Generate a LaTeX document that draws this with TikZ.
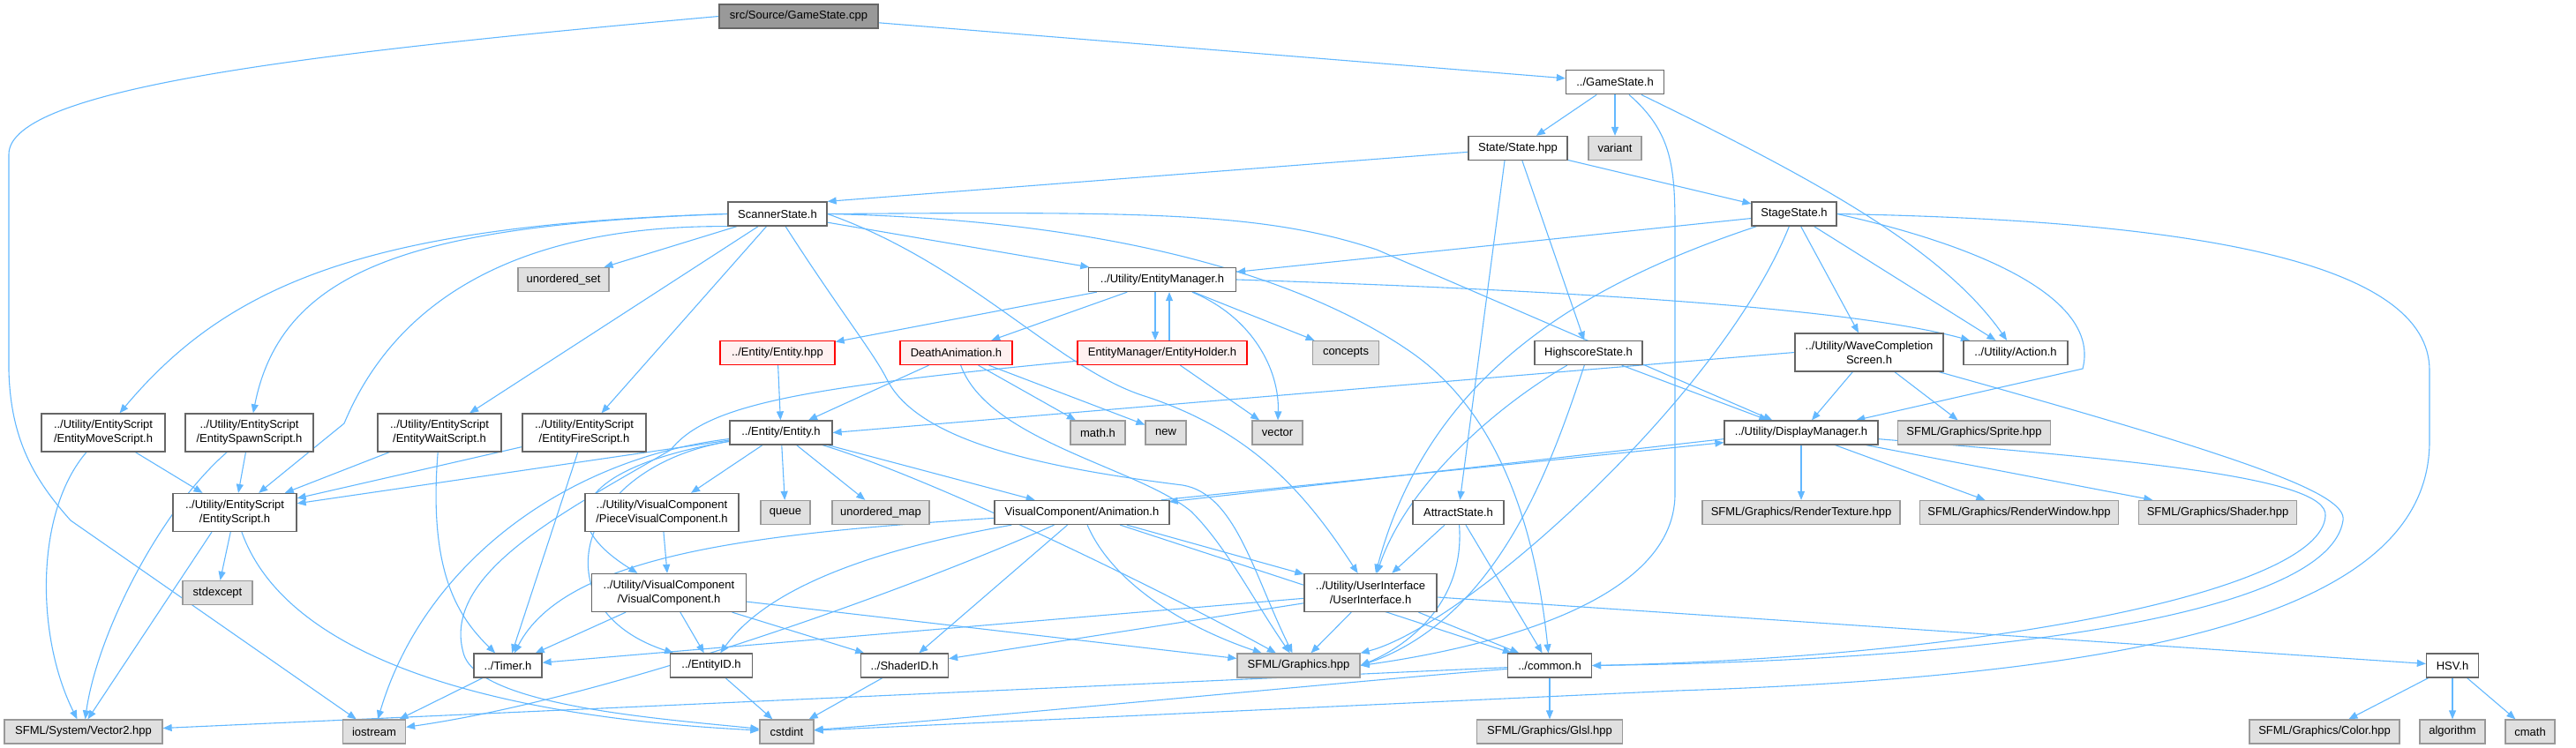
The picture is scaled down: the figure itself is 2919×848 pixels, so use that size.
\documentclass[tikz,border=0pt]{standalone}
\usepackage{fontspec}
\setmainfont{Liberation Sans}
\usetikzlibrary{arrows.meta}

\definecolor{edgeblue}{HTML}{63B8FF}
\definecolor{boxgray}{HTML}{666666}
\definecolor{sysborder}{HTML}{999999}
\definecolor{sysfill}{HTML}{E0E0E0}
\definecolor{rootfill}{HTML}{999999}
\definecolor{redfill}{HTML}{FFF0F0}

\pgfdeclarelayer{edges}
\pgfsetlayers{edges,main}

\begin{document}
\begin{tikzpicture}[x=1pt, y=-1pt,
    file/.style={draw=boxgray, fill=white, line width=1.3pt, inner sep=0pt,
        minimum height=27pt, align=center, font=\fontsize{13}{16}\selectfont},
    twoline/.style={file, minimum height=43pt},
    sys/.style={file, draw=sysborder, fill=sysfill},
    root/.style={file, fill=rootfill},
    broken/.style={file, draw=red, fill=redfill},
    dep/.style={draw=edgeblue, line width=1.1pt, -{Triangle[length=10pt,width=8pt]}}]
    \useasboundingbox (0,0) rectangle (2919,848);

    % top of the graph
    \node[root, minimum width=180pt] (gscpp) at (905,18.5) {src/Source/GameState.cpp};
    \node[file, minimum width=111pt] (gsh) at (1830,93.3) {../GameState.h};
    \node[file, minimum width=112pt] (statehpp) at (1720,168) {State/State.hpp};
    \node[sys, minimum width=60pt] (variant) at (1830,168) {variant};
    \node[file, minimum width=112pt] (scanner) at (881,242.5) {ScannerState.h};
    \node[file, minimum width=96pt] (stage) at (2033,242.5) {StageState.h};

    % second band
    \node[sys, minimum width=103pt] (uset) at (638.5,317) {unordered\_set};
    \node[file, minimum width=167pt] (emgr) at (1317,317) {../Utility/EntityManager.h};
    \node[broken, minimum width=130pt] (entityhpp) at (881,400) {../Entity/Entity.hpp};
    \node[broken, minimum width=127pt] (death) at (1083.5,400) {DeathAnimation.h};
    \node[broken, minimum width=192pt] (holder) at (1317,400) {EntityManager/EntityHolder.h};
    \node[sys, minimum width=75pt] (concepts) at (1525,400) {concepts};
    \node[file, minimum width=122pt] (highscore) at (1800,400) {HighscoreState.h};
    \node[twoline, minimum width=168pt] (wave) at (2118,399.5) {../Utility/WaveCompletion\\Screen.h};
    \node[file, minimum width=118pt] (action) at (2284,400) {../Utility/Action.h};

    % scripts and entity
    \node[twoline, minimum width=140pt] (movescript) at (117,490.5) {../Utility/EntityScript\\/EntityMoveScript.h};
    \node[twoline, minimum width=145pt] (spawnscript) at (282.5,490.5) {../Utility/EntityScript\\/EntitySpawnScript.h};
    \node[twoline, minimum width=140pt] (waitscript) at (498,490.5) {../Utility/EntityScript\\/EntityWaitScript.h};
    \node[twoline, minimum width=140pt] (firescript) at (662,490.5) {../Utility/EntityScript\\/EntityFireScript.h};
    \node[file, minimum width=116pt] (entityh) at (885,490.5) {../Entity/Entity.h};
    \node[sys, minimum width=62pt] (mathh) at (1244,490.5) {math.h};
    \node[sys, minimum width=46pt] (newh) at (1321,490.5) {new};
    \node[sys, minimum width=57pt] (vector) at (1447.5,490.5) {vector};
    \node[file, minimum width=174pt] (display) at (2041,490.5) {../Utility/DisplayManager.h};
    \node[sys, minimum width=173pt] (sprite) at (2237,490.5) {SFML/Graphics/Sprite.hpp};

    \node[twoline, minimum width=140pt] (escript) at (266,581) {../Utility/EntityScript\\/EntityScript.h};
    \node[twoline, minimum width=174pt] (piecevc) at (750,581) {../Utility/VisualComponent\\/PieceVisualComponent.h};
    \node[sys, minimum width=56pt] (queue) at (890,581) {queue};
    \node[sys, minimum width=110pt] (umap) at (998,581) {unordered\_map};
    \node[file, minimum width=198pt] (anim) at (1226,581) {VisualComponent/Animation.h};
    \node[file, minimum width=103pt] (attract) at (1652.5,581) {AttractState.h};
    \node[sys, minimum width=224pt] (rtex) at (2041,581) {SFML/Graphics/RenderTexture.hpp};
    \node[sys, minimum width=225pt] (rwin) at (2288,581) {SFML/Graphics/RenderWindow.hpp};
    \node[sys, minimum width=179pt] (shader) at (2513,581) {SFML/Graphics/Shader.hpp};

    \node[sys, minimum width=79pt] (stdexcept) at (246.5,672) {stdexcept};
    \node[twoline, minimum width=175pt] (vc) at (758,672) {../Utility/VisualComponent\\/VisualComponent.h};
    \node[twoline, minimum width=150pt] (ui) at (1553,672) {../Utility/UserInterface\\/UserInterface.h};

    % bottom bands
    \node[file, minimum width=77pt] (timer) at (575.5,754.5) {../Timer.h};
    \node[file, minimum width=93pt] (entityid) at (806,754.5) {../EntityID.h};
    \node[file, minimum width=99pt] (shaderid) at (1025,754.5) {../ShaderID.h};
    \node[sys, minimum width=139pt] (graphics) at (1471.5,754.5) {SFML/Graphics.hpp};
    \node[file, minimum width=95pt] (common) at (1756,754.5) {../common.h};
    \node[file, minimum width=59pt] (hsv) at (2779,754.5) {HSV.h};

    \node[sys, minimum width=179pt] (vector2) at (94.5,829.5) {SFML/System/Vector2.hpp};
    \node[sys, minimum width=71pt] (iostream) at (424,829.5) {iostream};
    \node[sys, minimum width=61pt] (cstdint) at (891.5,829.5) {cstdint};
    \node[sys, minimum width=165pt] (glsl) at (1756,829.5) {SFML/Graphics/Glsl.hpp};
    \node[sys, minimum width=170pt] (color) at (2634,829.5) {SFML/Graphics/Color.hpp};
    \node[sys, minimum width=74pt] (algorithm) at (2779,829.5) {algorithm};
    \node[sys, minimum width=56pt] (cmath) at (2867,829.5) {cmath};

    \begin{pgfonlayer}{edges}
    % GameState.cpp and GameState.h
    \draw[dep] (gscpp) -- (gsh);
    \draw[dep] (gscpp.west) .. controls (350,60) and (10,100) .. (10,175) -- (10,420)
        .. controls (12,500) and (40,545) .. (80,590) -- (iostream);
    \draw[dep] (gsh) -- (statehpp);
    \draw[dep] (gsh) -- (variant);
    \draw[dep] ([xshift=16pt]gsh.south) .. controls (1895,150) and (1898,190) .. (1898,260) -- (1898,560)
        .. controls (1898,690) and (1660,738) .. (graphics.east);
    \draw[dep] ([xshift=30pt]gsh.south) .. controls (2050,200) and (2200,280) .. (action);

    % State.hpp
    \draw[dep] (statehpp) -- (scanner.north east);
    \draw[dep] (statehpp) -- (stage);
    \draw[dep] (statehpp) -- (highscore);
    \draw[dep] ([xshift=-15pt]statehpp.south) -- (attract);

    % ScannerState.h
    \draw[dep] (scanner) -- (uset);
    \draw[dep] (scanner) -- (emgr);
    \draw[dep] (scanner.west) .. controls (420,255) and (260,320) .. (movescript);
    \draw[dep] (scanner.west) .. controls (480,255) and (320,300) .. (spawnscript);
    \draw[dep] (scanner.south west) .. controls (560,255) and (440,360) .. (390,480) -- (escript);
    \draw[dep] (scanner) -- (waitscript);
    \draw[dep] (scanner) -- (firescript);
    \draw[dep] (scanner) .. controls (950,350) and (990,400) .. (1005,430)
        .. controls (1040,500) and (1180,530) .. (1340,550)
        .. controls (1400,560) and (1420,650) .. (graphics);
    \draw[dep] (scanner.east) .. controls (1300,240) and (1430,240) .. (1560,283) -- (display);
    \draw[dep] (scanner.east) .. controls (1100,300) and (1200,420) .. (1300,450)
        .. controls (1420,490) and (1480,560) .. (ui);
    \draw[dep] (scanner.east) .. controls (1300,250) and (1500,330) .. (1600,400)
        .. controls (1700,470) and (1740,600) .. (common);

    % StageState.h
    \draw[dep] (stage) -- (emgr);
    \draw[dep] (stage) .. controls (1800,320) and (1620,420) .. (ui);
    \draw[dep] (stage) .. controls (1950,450) and (1660,710) .. (graphics.north east);
    \draw[dep] (stage) -- (wave);
    \draw[dep] (stage) -- (action);
    \draw[dep] (stage.east) .. controls (2250,280) and (2380,340) .. (2360,418) -- (display);
    \draw[dep] (stage.east) .. controls (2500,250) and (2753,300) .. (2753,420) -- (2753,500)
        .. controls (2753,690) and (2450,765) .. (1900,783) -- (cstdint);

    % EntityManager.h
    \draw[dep] (emgr) -- (entityhpp);
    \draw[dep] (emgr) -- (death);
    \draw[dep] ([xshift=-8pt]emgr.south) -- ([xshift=-8pt]holder.north);
    \draw[dep] ([xshift=8pt]holder.north) -- ([xshift=8pt]emgr.south);
    \draw[dep] (emgr) -- (concepts);
    \draw[dep] (emgr) .. controls (1420,360) and (1450,420) .. (vector);
    \draw[dep] (emgr.east) .. controls (1800,330) and (2100,350) .. (action);

    \draw[dep] (entityhpp) -- (entityh);
    \draw[dep] (death) -- (entityh);
    \draw[dep] (death) -- (mathh);
    \draw[dep] (death) -- (newh);
    \draw[dep] (death) .. controls (1120,500) and (1290,530) .. (1350,580)
        .. controls (1390,620) and (1420,680) .. (graphics);
    \draw[dep] (holder) -- (vector);
    \draw[dep] (holder) .. controls (900,440) and (800,460) .. (760,510)
        .. controls (640,580) and (500,650) .. (525,740) .. controls (540,800) and (750,815) .. (cstdint);

    % HighscoreState.h, AttractState.h, WaveCompletionScreen.h
    \draw[dep] (highscore) -- (display);
    \draw[dep] (highscore) .. controls (1680,470) and (1590,560) .. (ui);
    \draw[dep] (highscore) .. controls (1760,520) and (1700,700) .. (graphics.east);
    \draw[dep] (attract) -- (ui);
    \draw[dep] (attract) .. controls (1660,680) and (1600,730) .. (graphics.east);
    \draw[dep] (attract) -- (common);
    \draw[dep] (wave) -- (display);
    \draw[dep] (wave) -- (sprite);
    \draw[dep] (wave.west) -- (entityh.east);
    \draw[dep] (wave) .. controls (2550,520) and (2660,560) .. (2655,590)
        .. controls (2640,690) and (2300,748) .. (common.east);

    % DisplayManager.h
    \draw[dep] (display) -- (rtex);
    \draw[dep] (display) -- (rwin);
    \draw[dep] (display) -- (shader);
    \draw[dep] (display) .. controls (2400,520) and (2640,540) .. (2635,585)
        .. controls (2630,670) and (2250,745) .. (common.east);
    \draw[dep] ([xshift=-10pt]anim.north east) -- ([yshift=3pt]display.south west);
    \draw[dep] ([yshift=7pt]display.south west) -- ([xshift=-1pt,yshift=-2pt]anim.north east);

    % Entity.h
    \draw[dep] (entityh) -- (escript);
    \draw[dep] (entityh) -- (piecevc);
    \draw[dep] (entityh) -- (queue);
    \draw[dep] (entityh) -- (umap);
    \draw[dep] (entityh) -- (anim);
    \draw[dep] (entityh) .. controls (1050,540) and (1300,660) .. (graphics);
    \draw[dep] (entityh) .. controls (680,525) and (610,580) .. (vc);
    \draw[dep] (entityh) .. controls (650,530) and (610,690) .. (entityid);
    \draw[dep] (entityh) .. controls (640,520) and (480,640) .. (iostream);

    % scripts
    \draw[dep] (movescript) -- (escript);
    \draw[dep] (spawnscript) -- (escript);
    \draw[dep] (waitscript) -- (escript);
    \draw[dep] (firescript) -- (escript);
    \draw[dep] (movescript) .. controls (40,580) and (40,720) .. (vector2);
    \draw[dep] (spawnscript) .. controls (180,580) and (110,720) .. (vector2);
    \draw[dep] (waitscript) .. controls (485,650) and (520,700) .. (timer);
    \draw[dep] (firescript) -- (timer);
    \draw[dep] (escript) -- (stdexcept);
    \draw[dep] ([xshift=-26pt]escript.south) -- ([xshift=5pt]vector2.north);
    \draw[dep] (escript) .. controls (330,760) and (600,815) .. (cstdint);

    % Animation.h and visual components
    \draw[dep] (anim) .. controls (850,605) and (640,630) .. (timer);
    \draw[dep] (anim) .. controls (950,630) and (860,680) .. (entityid);
    \draw[dep] (anim) -- (shaderid);
    \draw[dep] (anim) .. controls (1260,660) and (1340,710) .. (graphics);
    \draw[dep] (anim) -- (common);
    \draw[dep] (anim) -- (ui);
    \draw[dep] (anim) .. controls (1050,660) and (700,790) .. (iostream);
    \draw[dep] (piecevc) -- (vc);
    \draw[dep] (vc) -- (timer);
    \draw[dep] (vc) -- (entityid);
    \draw[dep] (vc) -- (shaderid);
    \draw[dep] (vc) -- (graphics);

    % UserInterface.h
    \draw[dep] (ui) -- (timer);
    \draw[dep] (ui) -- (shaderid);
    \draw[dep] (ui) -- (graphics);
    \draw[dep] (ui) -- (common);
    \draw[dep] (ui) -- (hsv);

    % leaves
    \draw[dep] (timer) -- (iostream);
    \draw[dep] (entityid) -- (cstdint);
    \draw[dep] (shaderid) -- (cstdint);
    \draw[dep] (common) -- (glsl);
    \draw[dep] (common) -- (vector2);
    \draw[dep] (common) .. controls (1500,775) and (1100,815) .. (cstdint);
    \draw[dep] (hsv) -- (color);
    \draw[dep] (hsv) -- (algorithm);
    \draw[dep] (hsv) -- (cmath);
    \end{pgfonlayer}
\end{tikzpicture}
\end{document}
